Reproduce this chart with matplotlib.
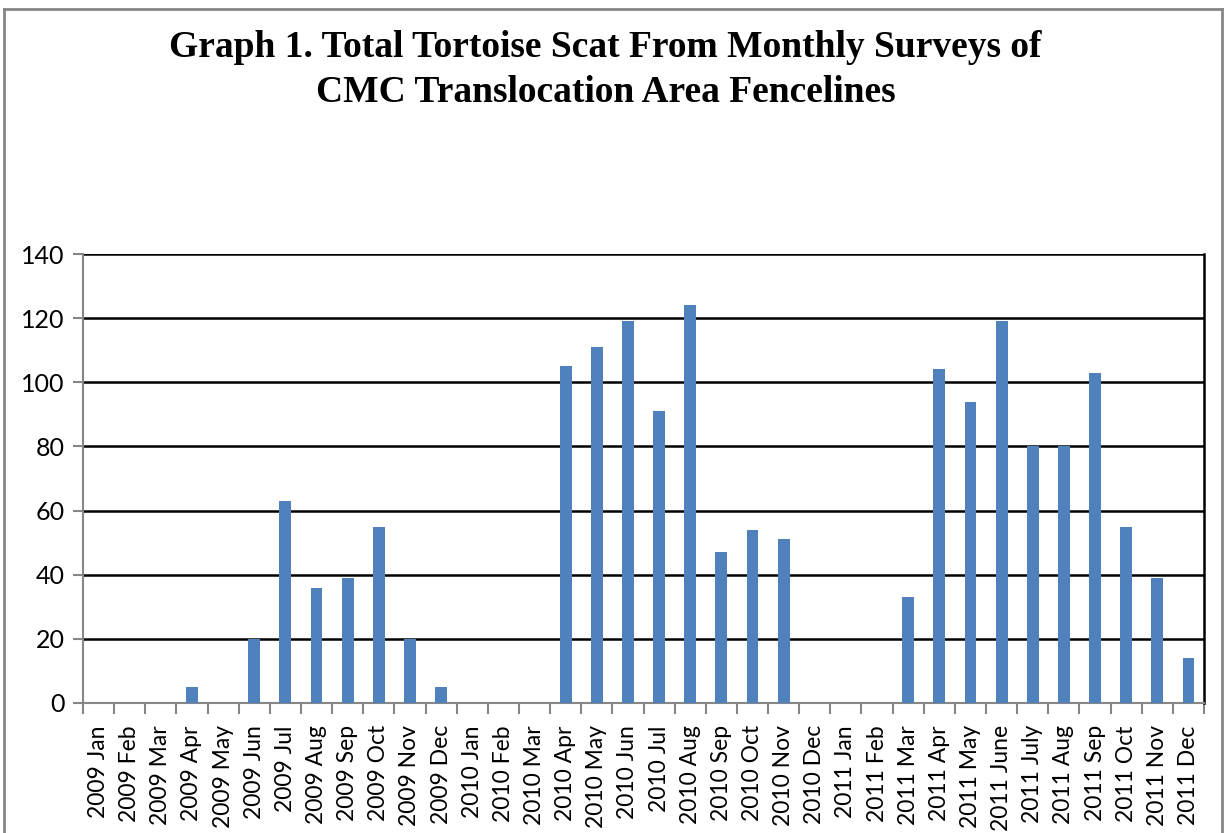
import matplotlib
matplotlib.use("Agg")
import matplotlib.pyplot as plt
from matplotlib.lines import Line2D
import numpy as np

categories = ["2009 Jan", "2009 Feb", "2009 Mar", "2009 Apr", "2009 May", "2009 Jun",
              "2009 Jul", "2009 Aug", "2009 Sep", "2009 Oct", "2009 Nov", "2009 Dec",
              "2010 Jan", "2010 Feb", "2010 Mar", "2010 Apr", "2010 May", "2010 Jun",
              "2010 Jul", "2010 Aug", "2010 Sep", "2010 Oct", "2010 Nov", "2010 Dec",
              "2011 Jan", "2011 Feb", "2011 Mar", "2011 Apr", "2011 May", "2011 June",
              "2011 July", "2011 Aug", "2011 Sep", "2011 Oct", "2011 Nov", "2011 Dec"]
scat = [0, 0, 0, 5, 0, 20,
        63, 36, 39, 55, 20, 5,
        0, 0, 0, 105, 111, 119,
        91, 124, 47, 54, 51, 0,
        0, 0, 33, 104, 94, 119,
        80, 80, 103, 55, 39, 14]
yticks = [0, 20, 40, 60, 80, 100, 120, 140]
title = "Graph 1. Total Tortoise Scat From Monthly Surveys of\nCMC Translocation Area Fencelines"

fig = plt.figure(figsize=(12.26, 8.33), dpi=100)
W, H = 1226, 833
ax = fig.add_axes([83 / W, 1 - 703 / H, (1204 - 83) / W, (703 - 254) / H])

x = np.arange(len(categories))
ax.bar(x, scat, width=0.38, color="#4F81BD", zorder=3)

ax.set_xlim(-0.5, len(categories) - 0.5)
ax.set_ylim(0, 140)
ax.set_yticks(yticks)
ax.yaxis.grid(True, color="black", linewidth=1.8, zorder=1)
ax.set_axisbelow(True)

ax.set_xticks(x)
ax.set_xticklabels(categories, rotation=90, fontsize=16.5, family="Lato")
ax.set_xticks(np.arange(-0.5, len(categories)), minor=True)
ax.tick_params(axis="x", which="major", length=0, pad=16)
ax.tick_params(axis="x", which="minor", length=8, width=1.5, color="#868686", direction="out")
ax.tick_params(axis="y", length=7, width=1.5, color="#868686", labelsize=18, pad=6)
for lab in ax.get_yticklabels():
    lab.set_family("Lato")

for s in ["left", "bottom"]:
    ax.spines[s].set_color("#868686")
    ax.spines[s].set_linewidth(1.5)
ax.spines["top"].set_visible(False)
ax.spines["right"].set_color("black")
ax.spines["right"].set_linewidth(1.8)

fig.text(0.494, 1 - 70 / H, title, ha="center", va="center", fontsize=27,
         fontweight="bold", family="Liberation Serif", linespacing=1.35)

# outer chart border
fig.add_artist(Line2D([4 / W, 4 / W], [0, 1 - 9 / H], transform=fig.transFigure, color="#868686", lw=2))
fig.add_artist(Line2D([4 / W, 1222 / W], [1 - 9 / H, 1 - 9 / H], transform=fig.transFigure, color="#868686", lw=2))
fig.add_artist(Line2D([1222 / W, 1222 / W], [0, 1 - 9 / H], transform=fig.transFigure, color="#868686", lw=2))

fig.savefig("out.png", dpi=100)
